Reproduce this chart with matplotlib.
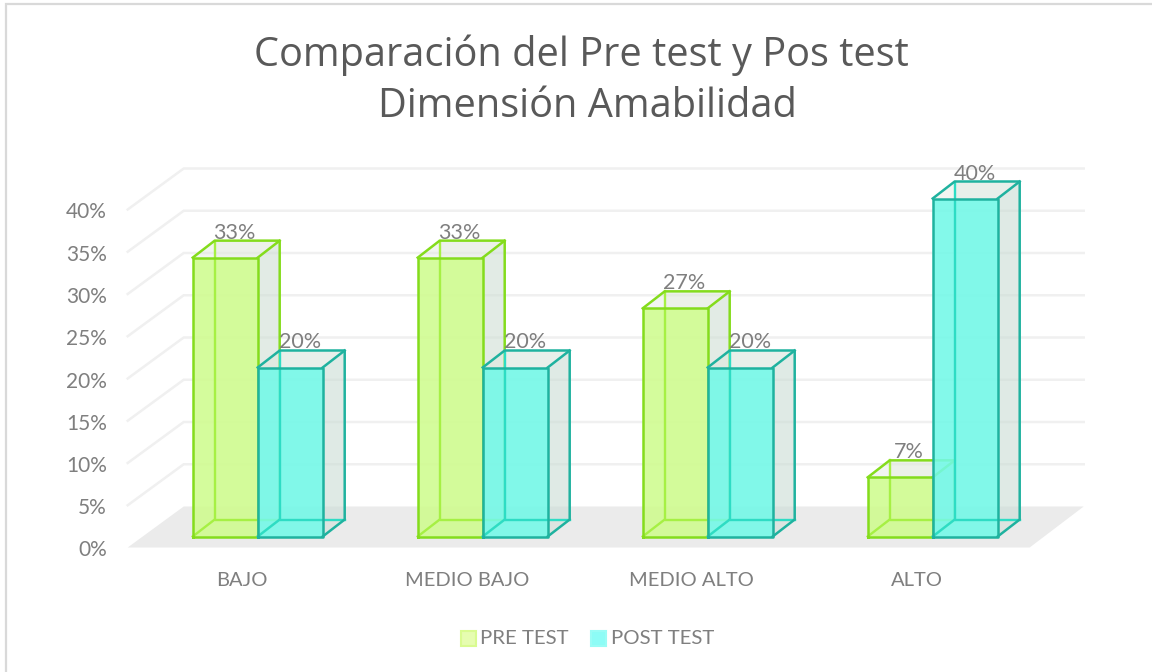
import matplotlib
matplotlib.use("Agg")
import matplotlib.pyplot as plt
from matplotlib.patches import Polygon, Rectangle

plt.rcParams['font.family'] = ['Lato', 'DejaVu Sans']

categories = ['BAJO', 'MEDIO BAJO', 'MEDIO ALTO', 'ALTO']
pre_test = [33, 33, 27, 7]
post_test = [20, 20, 20, 40]
y_ticks = [0, 5, 10, 15, 20, 25, 30, 35, 40]
title_lines = ['Comparación del Pre test y Pos test', 'Dimensión Amabilidad']

W, H = 1152, 672
PX_X = 225.0      # pixels per category
PX_Y = 8.45       # pixels per percent
X0 = 257.7        # pixel x of first category centre
Y0 = 536.5        # pixel y of the bars' baseline

fig = plt.figure(figsize=(W / 100, H / 100), dpi=100, facecolor='white')
ax = fig.add_axes([0, 0, 1, 1])
ax.set_xlim(-X0 / PX_X, (W - X0) / PX_X)
ax.set_ylim((Y0 - H) / PX_Y, Y0 / PX_Y)
ax.axis('off')

DX = 22 / PX_X
DY = 17 / PX_Y
BW = 65 / PX_X

GREY = '#7f7f7f'
# chart frame
fig.add_artist(Rectangle((6 / W, -0.1), 1.2, 1.1 - 4 / H, transform=fig.transFigure,
                         fill=False, ec='#d9d9d9', lw=1.6))

# floor and walls
back_y = 30 / PX_Y
front_y = -11 / PX_Y
xl_b, xl_f, xr_b, xr_f = -74 / PX_X, -130 / PX_X, 826 / PX_X, 772 / PX_X
ax.add_patch(Polygon([(xl_f, front_y), (xl_b, back_y), (xr_b, back_y), (xr_f, front_y)],
                     fc='#ebebeb', ec='none', zorder=1))
for t in y_ticks:
    if t > 0:
        ax.plot([xl_f, xl_b, xr_b], [t + front_y, t + back_y, t + back_y],
                color='#f0f0f0', lw=1.8, zorder=1.5, solid_joinstyle='miter')
    ax.text(-151 / PX_X, t + front_y - 3 / PX_Y, f'{t}%', ha='right', va='center',
            fontsize=15, color=GREY, zorder=6)


def box(x, v, fill, edge, hidden, wall, z):
    x2 = x + BW
    # back face
    ax.add_patch(Polygon([(x + DX, DY), (x2 + DX, DY), (x2 + DX, v + DY), (x + DX, v + DY)],
                         fc=wall, ec='none', alpha=0.35, zorder=z))
    # right side
    ax.add_patch(Polygon([(x2, 0), (x2 + DX, DY), (x2 + DX, v + DY), (x2, v)],
                         fc='#c9dcd2', ec='none', alpha=0.42, zorder=z))
    # top
    ax.add_patch(Polygon([(x, v), (x + DX, v + DY), (x2 + DX, v + DY), (x2, v)],
                         fc='#dfe8dc', ec='none', alpha=0.4, zorder=z))
    # front
    ax.add_patch(Rectangle((x, 0), BW, v, fc=fill, ec='none', alpha=0.88, zorder=z + 0.1))
    # hidden edges, seen through the front
    ax.plot([x + DX, x + DX, x2 + DX], [v + DY, DY, DY], color=hidden, lw=1.7, zorder=z + 0.2)
    ax.plot([x, x + DX], [0, DY], color=hidden, lw=1.7, zorder=z + 0.2)
    # visible outline
    ax.plot([x, x, x2, x2, x], [0, v, v, 0, 0], color=edge, lw=1.8, zorder=z + 0.4, solid_joinstyle='round')
    ax.plot([x, x + DX, x2 + DX, x2 + DX, x2], [v, v + DY, v + DY, DY, 0], color=edge, lw=1.8,
            zorder=z + 0.4, solid_joinstyle='round')
    ax.plot([x2, x2 + DX], [v, v + DY], color=edge, lw=1.8, zorder=z + 0.4)


for i, (a, b, name) in enumerate(zip(pre_test, post_test, categories)):
    box(i - BW, a, '#cffc8e', '#84dc1c', '#a6f044', '#e4e9de', 2 + i * 0.001)
    box(i, b, '#72f9e8', '#1fb29f', '#2edcc4', '#d3e4e0', 3 + i * 0.001)
    ax.text(i - BW + 41.5 / PX_X, a + 25 / PX_Y, f'{a}%', ha='center', va='center',
            fontsize=15.5, color=GREY, zorder=5)
    ax.text(i + 42 / PX_X, b + 25 / PX_Y, f'{b}%', ha='center', va='center',
            fontsize=15.5, color=GREY, zorder=5)
    ax.text(i - 16 / PX_X, -44.5 / PX_Y, name, ha='center', va='center',
            fontsize=14.5, color=GREY)

# title
for line, cx, py in zip(title_lines, (581.5, 587), (55, 107)):
    ax.text((cx - X0) / PX_X, (Y0 - py) / PX_Y, line, ha='center', va='center',
            fontsize=28.6, family='Open Sans', color='#595959')

# legend
for px, tx, label, fc, ec in [(461, 480, 'PRE TEST', '#e6fdb0', '#d9fb90'),
                              (591, 611, 'POST TEST', '#8dfcf6', '#9afcf5')]:
    ax.add_patch(Rectangle(((px - X0) / PX_X, (Y0 - 646) / PX_Y), 15 / PX_X, 15 / PX_Y,
                           fc=fc, ec=ec, lw=1.5, zorder=5))
    ax.text((tx - X0) / PX_X, (Y0 - 638) / PX_Y, label, ha='left', va='center',
            fontsize=14.7, color=GREY)

fig.savefig('out.png', dpi=100, facecolor='white')
